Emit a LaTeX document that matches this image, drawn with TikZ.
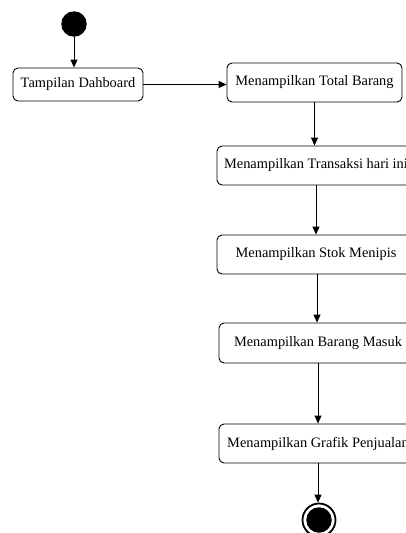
\documentclass[tikz,border=0pt]{standalone}
\usepackage{fontspec}
\setmainfont{Liberation Serif}
\usetikzlibrary{arrows.meta}
\begin{document}
\begin{tikzpicture}[x=1pt,y=-1pt,
  act/.style={draw, rounded corners=5pt, line width=0.9pt, inner sep=0pt, font=\fontsize{14.4}{16}\selectfont},
  flow/.style={draw, line width=0.9pt, -{Triangle[length=8pt,width=7pt]}},
  startnode/.style={circle, fill=black, minimum size=25.5pt, inner sep=0pt},
  endring/.style={circle, draw, line width=1.8pt, minimum size=33pt, inner sep=0pt},
  enddot/.style={circle, fill=black, minimum size=25.5pt, inner sep=0pt}]
\useasboundingbox (0,0) rectangle (406,533);
\clip (0,0) rectangle (406,533);
\node[startnode] (start) at (74,24) {};
\node[act, minimum width=130pt, minimum height=33pt] (dash) at (78,84.5) {Tampilan Dahboard};
\node[act, minimum width=175pt, minimum height=39pt] (total) at (314.5,82.5) {Menampilkan Total Barang};
\node[act, minimum width=198pt, minimum height=39pt] (trans) at (316,165.5) {Menampilkan Transaksi hari ini};
\node[act, minimum width=198pt, minimum height=39pt] (stok) at (316,254.5) {Menampilkan Stok Menipis};
\node[act, minimum width=198pt, minimum height=40pt] (masuk) at (318,343) {Menampilkan Barang Masuk};
\node[act, minimum width=198pt, minimum height=39pt] (grafik) at (318,443.5) {Menampilkan Grafik Penjualan};
\node[endring] (endn) at (319,520) {};
\node[enddot] (enddotn) at (endn.center) {};
\draw[flow] (start.south) -- (start.south |- dash.north);
\draw[flow] (dash.east) -- (dash.east -| total.west);
\draw[flow] (total.south) -- (total.south |- trans.north);
\draw[flow] (trans.south) -- (stok.north);
\draw[flow] ([xshift=1pt]stok.south) -- ([xshift=1pt]stok.south |- masuk.north);
\draw[flow] (masuk.south) -- (grafik.north);
\draw[flow] (grafik.south) -- (grafik.south |- endn.north);
\end{tikzpicture}
\end{document}
